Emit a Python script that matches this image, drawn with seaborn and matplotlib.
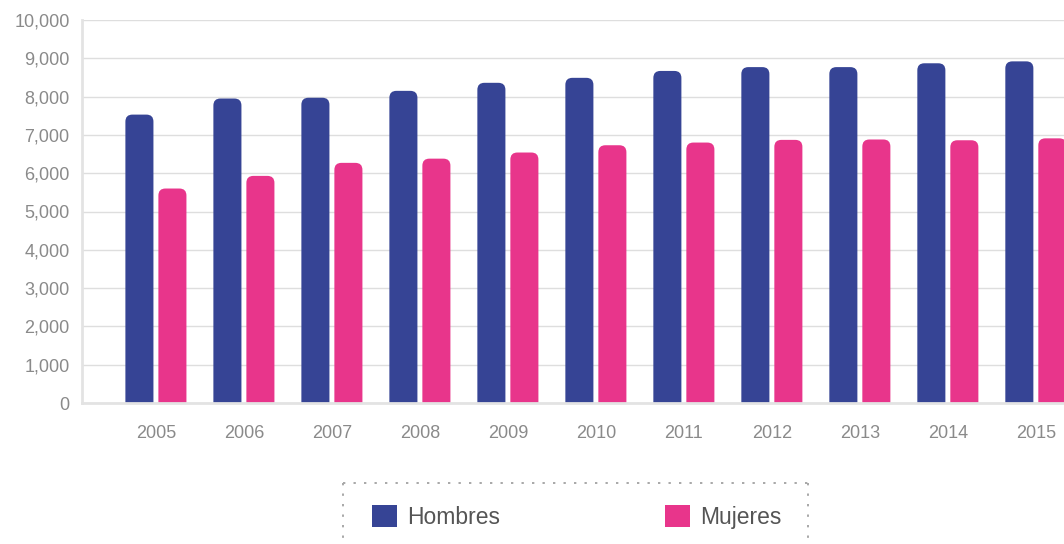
import matplotlib
matplotlib.use("Agg")
import matplotlib.pyplot as plt
from matplotlib.patches import FancyBboxPatch, Patch
from matplotlib.lines import Line2D
from matplotlib.ticker import FuncFormatter, MultipleLocator
import pandas as pd
import seaborn as sns

# Población ocupada por sexo (miles)
years = ["2005", "2006", "2007", "2008", "2009", "2010",
         "2011", "2012", "2013", "2014", "2015"]
hombres = [7530, 7950, 7970, 8150, 8360, 8490, 8670, 8770, 8770, 8870, 8920]
mujeres = [5600, 5930, 6270, 6380, 6540, 6730, 6800, 6870, 6880, 6860, 6910]
series = ["Hombres", "Mujeres"]
colors = ["#364495", "#e8358b"]

df = pd.DataFrame({
    "año": years * 2,
    "sexo": [series[0]] * len(years) + [series[1]] * len(years),
    "valor": hombres + mujeres,
})

sns.set_theme(style="white")
plt.rcParams["font.family"] = ["Liberation Sans", "DejaVu Sans"]

W, H = 1064, 544
fig = plt.figure(figsize=(W / 100, H / 100), dpi=100)
ax = fig.add_axes([82 / W, 1 - 403 / H, (W - 82) / W, (403 - 20) / H])

sns.barplot(data=df, x="año", y="valor", hue="sexo", palette=colors,
            width=0.75, gap=0.15, saturation=1, legend=False, ax=ax)

ax.set_xlim(-0.84, 10.32)
ax.set_ylim(0, 10000)
ax.yaxis.set_major_locator(MultipleLocator(1000))
ax.yaxis.set_major_formatter(FuncFormatter(lambda v, _: f"{int(v):,}"))
ax.set_xlabel("")
ax.set_ylabel("")

ax.grid(axis="y", color="#dedede", linewidth=1)
ax.set_axisbelow(True)
for side in ("top", "right"):
    ax.spines[side].set_visible(False)
for side in ("left", "bottom"):
    ax.spines[side].set_color("#e3e3e3")
    ax.spines[side].set_linewidth(2)

ax.tick_params(axis="y", length=0, pad=9, labelsize=13, labelcolor="#8a8a8a")
ax.tick_params(axis="x", length=0, pad=16, labelsize=13, labelcolor="#8a8a8a")

# Rounded tops on each bar
px_x = ax.bbox.width / (ax.get_xlim()[1] - ax.get_xlim()[0])
px_y = ax.bbox.height / (ax.get_ylim()[1] - ax.get_ylim()[0])
aspect = px_x / px_y
r = 7 / px_x
for p in list(ax.patches):
    x0, w, h = p.get_x(), p.get_width(), p.get_height()
    fc = p.get_facecolor()
    p.remove()
    below = 3 * r * aspect
    ax.add_patch(FancyBboxPatch((x0, -below), w, h + below,
                                boxstyle=f"round,pad=0,rounding_size={r}",
                                mutation_aspect=aspect, facecolor=fc,
                                edgecolor="none", zorder=2))

# Legend
handles = [Patch(facecolor=c, edgecolor="none") for c in colors]
fig.legend(handles, series, loc="center left",
           bbox_to_anchor=(372 / W, 1 - 517 / H), ncol=2, frameon=False,
           fontsize=16.5, labelcolor="#555555", handlelength=1.09,
           handleheight=1.05, handletextpad=0.44, columnspacing=7.2,
           borderpad=0, borderaxespad=0)

# Dotted frame around the legend
frame = dict(color="#a8a8a8", linewidth=1.4, linestyle=(0, (1.2, 4.2)),
             transform=fig.transFigure)
x1, x2, yt = 343 / W, 808 / W, 1 - 483 / H
fig.add_artist(Line2D([x1, x2], [yt, yt], **frame))
fig.add_artist(Line2D([x1, x1], [yt, 0], **frame))
fig.add_artist(Line2D([x2, x2], [yt, 0], **frame))

fig.savefig("out.png", dpi=100)
